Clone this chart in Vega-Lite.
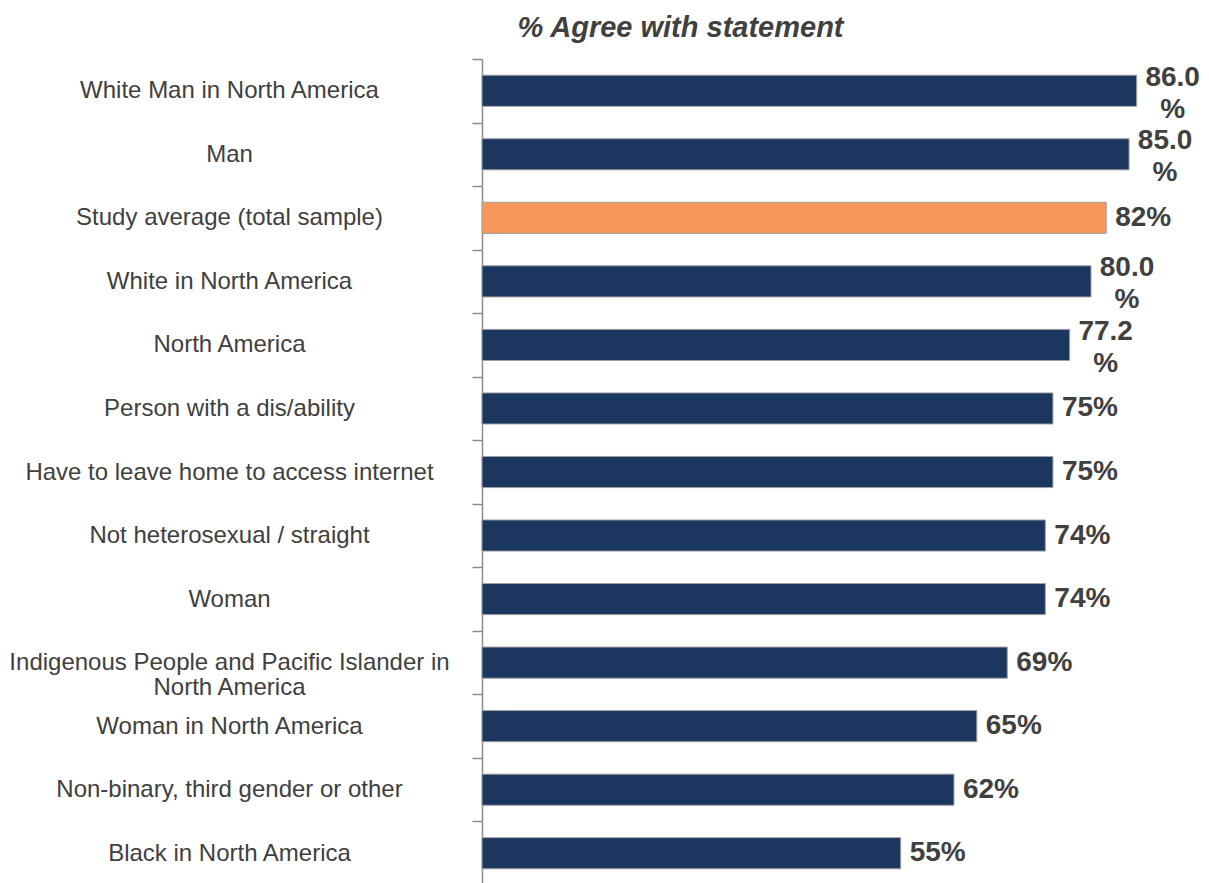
{
  "$schema": "https://vega.github.io/schema/vega-lite/v6.json",
  "autosize": {"type": "none"},
  "padding": {"left": 482, "top": 59, "right": 0, "bottom": 0},
  "width": 727,
  "height": 826,
  "background": "white",
  "config": {"view": {"stroke": null}, "font": "Liberation Sans"},
  "title": {
    "text": "% Agree with statement",
    "font": "Liberation Sans",
    "fontSize": 29,
    "fontWeight": "bold",
    "fontStyle": "italic",
    "color": "#404040",
    "anchor": "middle",
    "dx": -165,
    "offset": 4
  },
  "data": {
    "values": [
      {"group": "White Man in North America", "value": 86.0, "label": "86.0\n%", "highlight": "no"},
      {"group": "Man", "value": 85.0, "label": "85.0\n%", "highlight": "no"},
      {"group": "Study average (total sample)", "value": 82, "label": "82%", "highlight": "yes"},
      {"group": "White in North America", "value": 80.0, "label": "80.0\n%", "highlight": "no"},
      {"group": "North America", "value": 77.2, "label": "77.2\n%", "highlight": "no"},
      {"group": "Person with a dis/ability", "value": 75, "label": "75%", "highlight": "no"},
      {"group": "Have to leave home to access internet", "value": 75, "label": "75%", "highlight": "no"},
      {"group": "Not heterosexual / straight", "value": 74, "label": "74%", "highlight": "no"},
      {"group": "Woman", "value": 74, "label": "74%", "highlight": "no"},
      {"group": "Indigenous People and Pacific Islander in\nNorth America", "value": 69, "label": "69%", "highlight": "no"},
      {"group": "Woman in North America", "value": 65, "label": "65%", "highlight": "no"},
      {"group": "Non-binary, third gender or other", "value": 62, "label": "62%", "highlight": "no"},
      {"group": "Black in North America", "value": 55, "label": "55%", "highlight": "no"}
    ]
  },
  "encoding": {
    "y": {
      "field": "group",
      "type": "nominal",
      "sort": null,
      "scale": {"paddingInner": 0, "paddingOuter": 0},
      "axis": {
        "title": null,
        "domain": true,
        "domainColor": "#8c8c8c",
        "domainWidth": 1.5,
        "ticks": true,
        "tickColor": "#8c8c8c",
        "tickWidth": 1.5,
        "tickSize": 10,
        "tickBand": "extent",
        "labelAlign": "center",
        "labelPadding": 243,
        "labelFont": "Liberation Sans",
        "labelFontSize": 24,
        "labelColor": "#404040",
        "labelLimit": 600,
        "labelLineHeight": 25,
        "labelExpr": "split(datum.label, '\\n')"
      }
    },
    "x": {
      "field": "value",
      "type": "quantitative",
      "scale": {"domain": [0, 95.5]},
      "axis": null
    }
  },
  "layer": [
    {
      "mark": {"type": "bar", "stroke": "#a0a0a0", "strokeWidth": 1, "height": {"band": 0.49}},
      "encoding": {
        "color": {
          "field": "highlight",
          "type": "nominal",
          "scale": {"domain": ["no", "yes"], "range": ["#1B365F", "#F7965A"]},
          "legend": null
        }
      }
    },
    {
      "transform": [{"filter": "indexof(datum.label, '\\n') < 0"}],
      "mark": {
        "type": "text",
        "align": "center",
        "baseline": "middle",
        "dx": 37,
        "font": "Liberation Sans",
        "fontSize": 28,
        "fontWeight": "bold",
        "color": "#404040"
      },
      "encoding": {"text": {"field": "label"}}
    },
    {
      "transform": [{"filter": "indexof(datum.label, '\\n') >= 0"}],
      "mark": {
        "type": "text",
        "align": "center",
        "baseline": "middle",
        "dx": 36,
        "dy": -13,
        "font": "Liberation Sans",
        "fontSize": 28,
        "fontWeight": "bold",
        "color": "#404040",
        "lineBreak": "\n",
        "lineHeight": 32
      },
      "encoding": {"text": {"field": "label"}}
    }
  ]
}
